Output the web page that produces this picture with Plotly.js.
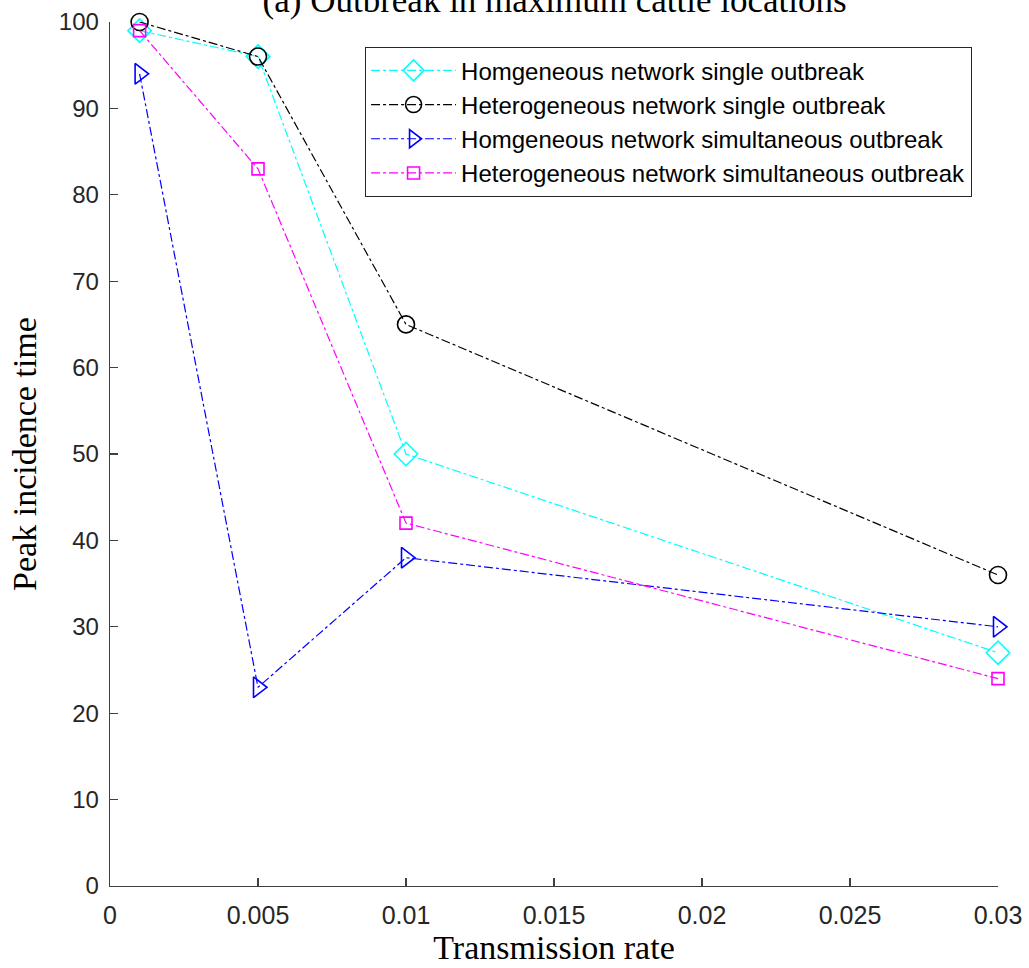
<!DOCTYPE html>
<html>
<head>
<meta charset="utf-8">
<script src="https://cdn.plot.ly/plotly-3.0.1.min.js"></script>
<style>html,body{margin:0;padding:0;background:#fff;}#chart{width:1029px;height:968px;}</style>
</head>
<body>
<div id="chart"></div>
<script>
const transmissionRate = [0.001, 0.005, 0.01, 0.03];
const homSingle = [99, 96, 50, 27];
const hetSingle = [100, 96, 65, 36];
const homSimul = [94, 23, 38, 30];
const hetSimul = [99, 83, 42, 24];
const seriesNames = [
  'Homgeneous network single outbreak',
  'Heterogeneous network single outbreak',
  'Homgeneous network simultaneous outbreak',
  'Heterogeneous network simultaneous outbreak'
];
const xTicks = [0, 0.005, 0.01, 0.015, 0.02, 0.025, 0.03];
const xTickText = ['0', '0.005', '0.01', '0.015', '0.02', '0.025', '0.03'];
const yTicks = [0, 10, 20, 30, 40, 50, 60, 70, 80, 90, 100];

function tr(y, name, color, symbol, size) {
  return {
    x: transmissionRate, y: y, name: name, type: 'scatter', mode: 'lines+markers',
    line: {color: color, width: 1.2, dash: 'dashdot'},
    marker: {symbol: symbol, size: size, color: color, line: {color: color, width: 1.6}},
    cliponaxis: false
  };
}
const data = [
  tr(homSingle, seriesNames[0], '#00ffff', 'diamond-open', 18),
  tr(hetSingle, seriesNames[1], '#000000', 'circle-open', 17),
  tr(homSimul, seriesNames[2], '#0000ff', 'triangle-right-open', 18),
  tr(hetSimul, seriesNames[3], '#ff00ff', 'square-open', 12)
];
const serif = 'Liberation Serif, DejaVu Serif, serif';
const sans = 'Liberation Sans, Arial, sans-serif';
const layout = {
  width: 1029, height: 968,
  margin: {l: 110, r: 31, t: 22, b: 82},
  paper_bgcolor: '#fff', plot_bgcolor: '#fff',
  showlegend: true,
  title: {
    text: '(a) Outbreak in maximum cattle locations',
    font: {family: serif, size: 35, color: '#000'},
    x: 0.539, xanchor: 'center', y: 1.0, yref: 'container', yanchor: 'middle'
  },
  xaxis: {
    range: [0, 0.03], tickvals: xTicks, ticktext: xTickText,
    showline: true, linecolor: '#404040', linewidth: 1.3, mirror: false,
    ticks: 'inside', ticklen: 8, tickcolor: '#404040', tickwidth: 1.3,
    showgrid: false, zeroline: false, ticklabelstandoff: 7,
    tickfont: {family: sans, size: 25, color: '#262626'},
    title: {text: 'Transmission rate', font: {family: serif, size: 34, color: '#000'}, standoff: 6}
  },
  yaxis: {
    range: [0, 100], tickvals: yTicks,
    showline: true, linecolor: '#404040', linewidth: 1.3, mirror: false,
    ticks: 'inside', ticklen: 8, tickcolor: '#404040', tickwidth: 1.3,
    showgrid: false, zeroline: false, ticklabelstandoff: 5,
    tickfont: {family: sans, size: 24, color: '#262626'},
    title: {text: 'Peak incidence time', font: {family: serif, size: 34, color: '#000'}, standoff: 12}
  },
  legend: {
    x: 0.287, y: 0.971, xanchor: 'left', yanchor: 'top',
    bgcolor: '#fff', bordercolor: '#262626', borderwidth: 1.2,
    font: {family: sans, size: 24, color: '#000'},
    itemwidth: 85, tracegroupgap: 0
  }
};
Plotly.newPlot('chart', data, layout, {displayModeBar: false, staticPlot: true});
</script>
</body>
</html>
